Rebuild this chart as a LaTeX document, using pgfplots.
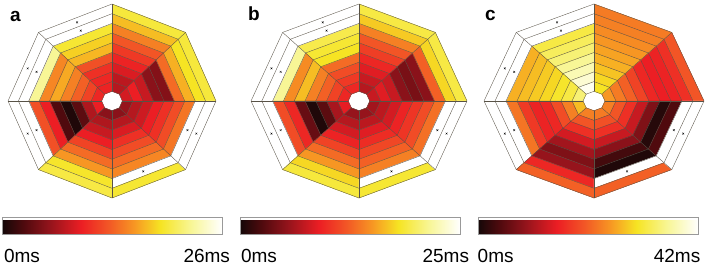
\documentclass[border=0pt]{standalone}
\usepackage{pgfplots}
\usepackage{pgfplotstable}
\pgfplotsset{compat=1.18}
\usepackage{fontspec}
\setmainfont{Liberation Sans}
\definecolor{gridc}{RGB}{88,82,70}
\pgfplotsset{
 colormap={hotc}{rgb255(0cm)=(20,8,8) rgb255(10cm)=(80,10,14) rgb255(22cm)=(150,20,28) rgb255(36cm)=(236,30,36) rgb255(48cm)=(242,85,38) rgb255(60cm)=(247,150,35) rgb255(72cm)=(246,228,35) rgb255(86cm)=(248,246,150) rgb255(100cm)=(255,255,255)},
 bull/.style={anchor=center, hide axis, xmin=-1, xmax=1, ymin=-1, ymax=1, colormap name=hotc, point meta min=0, point meta max=1, clip=false, colorbar horizontal},
 cells/.style={surf, shader=flat corner, mesh/rows=9, mesh/cols=10, point meta=explicit},
 gridl/.style={sharp plot, mesh/check=false, draw=gridc, line width=0.35pt, no marks, forget plot},
 xmk/.style={only marks, mark=x, mark size=1.3pt, black, line width=0.35pt},
 cbar/.style={at={(parent axis.south west)}, anchor=north west, height=17pt, scale only axis, xtick={0,1}, major tick length=0pt, xticklabel style={font=\fontsize{19}{22}\selectfont, anchor=base, inner sep=0pt, yshift=-28pt}, axis line style={draw=black!40, line width=0.4pt}}
}
\pgfplotstableread[row sep=\\]{
t r v\\
0 0.1 0.32\\ 0 0.2 0.36\\ 0 0.3 0.30\\ 0 0.4 0.20\\ 0 0.5 0.19\\ 0 0.6 0.52\\ 0 0.7 0.64\\ 0 0.8 0.72\\ 0 0.9 0.75\\ 0 1.0 0\\
45 0.1 0.27\\ 45 0.2 0.28\\ 45 0.3 0.33\\ 45 0.4 0.37\\ 45 0.5 0.42\\ 45 0.6 0.48\\ 45 0.7 0.56\\ 45 0.8 0.66\\ 45 0.9 0.75\\ 45 1.0 0\\
90 0.1 0.37\\ 90 0.2 0.38\\ 90 0.3 0.40\\ 90 0.4 0.47\\ 90 0.5 0.65\\ 90 0.6 0.69\\ 90 0.7 0.74\\ 90 0.8 1\\ 90 0.9 1\\ 90 1.0 0\\
135 0.1 0.38\\ 135 0.2 0.44\\ 135 0.3 0.50\\ 135 0.4 0.56\\ 135 0.5 0.63\\ 135 0.6 0.57\\ 135 0.7 0.86\\ 135 0.8 1\\ 135 0.9 1\\ 135 1.0 0\\
180 0.1 0.36\\ 180 0.2 0.26\\ 180 0.3 0.12\\ 180 0.4 0.02\\ 180 0.5 0.10\\ 180 0.6 0.36\\ 180 0.7 0.47\\ 180 0.8 1\\ 180 0.9 1\\ 180 1.0 0\\
225 0.1 0.20\\ 225 0.2 0.26\\ 225 0.3 0.30\\ 225 0.4 0.36\\ 225 0.5 0.44\\ 225 0.6 0.52\\ 225 0.7 0.60\\ 225 0.8 0.73\\ 225 0.9 0.76\\ 225 1.0 0\\
270 0.1 0.20\\ 270 0.2 0.27\\ 270 0.3 0.33\\ 270 0.4 0.40\\ 270 0.5 0.46\\ 270 0.6 0.52\\ 270 0.7 0.57\\ 270 0.8 1\\ 270 0.9 0.74\\ 270 1.0 0\\
315 0.1 0.22\\ 315 0.2 0.27\\ 315 0.3 0.31\\ 315 0.4 0.36\\ 315 0.5 0.40\\ 315 0.6 0.46\\ 315 0.7 0.54\\ 315 0.8 1\\ 315 0.9 1\\ 315 1.0 0\\
360 0.1 0\\ 360 0.2 0\\ 360 0.3 0\\ 360 0.4 0\\ 360 0.5 0\\ 360 0.6 0\\ 360 0.7 0\\ 360 0.8 0\\ 360 0.9 0\\ 360 1.0 0\\
}\dataA
\pgfplotstableread[row sep=\\]{
t r v\\
0 0.1 0.30\\ 0 0.2 0.34\\ 0 0.3 0.30\\ 0 0.4 0.20\\ 0 0.5 0.17\\ 0 0.6 0.20\\ 0 0.7 0.50\\ 0 0.8 0.70\\ 0 0.9 0.76\\ 0 1.0 0\\
45 0.1 0.27\\ 45 0.2 0.30\\ 45 0.3 0.34\\ 45 0.4 0.38\\ 45 0.5 0.43\\ 45 0.6 0.48\\ 45 0.7 0.56\\ 45 0.8 0.68\\ 45 0.9 0.76\\ 45 1.0 0\\
90 0.1 0.38\\ 90 0.2 0.42\\ 90 0.3 0.46\\ 90 0.4 0.52\\ 90 0.5 0.72\\ 90 0.6 0.74\\ 90 0.7 0.77\\ 90 0.8 1\\ 90 0.9 1\\ 90 1.0 0\\
135 0.1 0.38\\ 135 0.2 0.44\\ 135 0.3 0.50\\ 135 0.4 0.56\\ 135 0.5 0.66\\ 135 0.6 0.58\\ 135 0.7 0.86\\ 135 0.8 1\\ 135 0.9 1\\ 135 1.0 0\\
180 0.1 0.35\\ 180 0.2 0.25\\ 180 0.3 0.12\\ 180 0.4 0.02\\ 180 0.5 0.14\\ 180 0.6 0.38\\ 180 0.7 0.46\\ 180 0.8 1\\ 180 0.9 1\\ 180 1.0 0\\
225 0.1 0.22\\ 225 0.2 0.27\\ 225 0.3 0.32\\ 225 0.4 0.37\\ 225 0.5 0.44\\ 225 0.6 0.52\\ 225 0.7 0.60\\ 225 0.8 0.70\\ 225 0.9 0.75\\ 225 1.0 0\\
270 0.1 0.22\\ 270 0.2 0.28\\ 270 0.3 0.34\\ 270 0.4 0.39\\ 270 0.5 0.45\\ 270 0.6 0.50\\ 270 0.7 0.56\\ 270 0.8 1\\ 270 0.9 0.74\\ 270 1.0 0\\
315 0.1 0.24\\ 315 0.2 0.28\\ 315 0.3 0.32\\ 315 0.4 0.37\\ 315 0.5 0.41\\ 315 0.6 0.46\\ 315 0.7 0.53\\ 315 0.8 1\\ 315 0.9 1\\ 315 1.0 0\\
360 0.1 0\\ 360 0.2 0\\ 360 0.3 0\\ 360 0.4 0\\ 360 0.5 0\\ 360 0.6 0\\ 360 0.7 0\\ 360 0.8 0\\ 360 0.9 0\\ 360 1.0 0\\
}\dataB
\pgfplotstableread[row sep=\\]{
t r v\\
0 0.1 0.60\\ 0 0.2 0.55\\ 0 0.3 0.50\\ 0 0.4 0.44\\ 0 0.5 0.38\\ 0 0.6 0.36\\ 0 0.7 0.37\\ 0 0.8 0.40\\ 0 0.9 0.48\\ 0 1.0 0\\
45 0.1 0.72\\ 45 0.2 0.70\\ 45 0.3 0.67\\ 45 0.4 0.64\\ 45 0.5 0.62\\ 45 0.6 0.60\\ 45 0.7 0.58\\ 45 0.8 0.56\\ 45 0.9 0.55\\ 45 1.0 0\\
90 0.1 0.98\\ 90 0.2 0.94\\ 90 0.3 0.90\\ 90 0.4 0.86\\ 90 0.5 0.82\\ 90 0.6 0.79\\ 90 0.7 0.76\\ 90 0.8 1\\ 90 0.9 1\\ 90 1.0 0\\
135 0.1 0.82\\ 135 0.2 0.76\\ 135 0.3 0.73\\ 135 0.4 0.70\\ 135 0.5 0.68\\ 135 0.6 0.66\\ 135 0.7 0.64\\ 135 0.8 1\\ 135 0.9 1\\ 135 1.0 0\\
180 0.1 0.66\\ 180 0.2 0.56\\ 180 0.3 0.46\\ 180 0.4 0.38\\ 180 0.5 0.37\\ 180 0.6 0.42\\ 180 0.7 0.54\\ 180 0.8 1\\ 180 0.9 1\\ 180 1.0 0\\
225 0.1 0.56\\ 225 0.2 0.48\\ 225 0.3 0.40\\ 225 0.4 0.32\\ 225 0.5 0.24\\ 225 0.6 0.18\\ 225 0.7 0.22\\ 225 0.8 0.38\\ 225 0.9 0.50\\ 225 1.0 0\\
270 0.1 0.55\\ 270 0.2 0.47\\ 270 0.3 0.40\\ 270 0.4 0.30\\ 270 0.5 0.20\\ 270 0.6 0.08\\ 270 0.7 0.02\\ 270 0.8 1\\ 270 0.9 0.50\\ 270 1.0 0\\
315 0.1 0.56\\ 315 0.2 0.48\\ 315 0.3 0.40\\ 315 0.4 0.30\\ 315 0.5 0.18\\ 315 0.6 0.03\\ 315 0.7 0.10\\ 315 0.8 1\\ 315 0.9 1\\ 315 1.0 0\\
360 0.1 0\\ 360 0.2 0\\ 360 0.3 0\\ 360 0.4 0\\ 360 0.5 0\\ 360 0.6 0\\ 360 0.7 0\\ 360 0.8 0\\ 360 0.9 0\\ 360 1.0 0\\
}\dataC
\pgfplotstableread[row sep=\\]{
t r\\ 112.5 0.85\\ 112.5 0.95\\ 157.5 0.85\\ 157.5 0.95\\ 202.5 0.85\\ 202.5 0.95\\ 292.5 0.85\\ 337.5 0.85\\ 337.5 0.95\\
}\marks
\pgfplotstableread[row sep=\\]{
t z\\ 0 0\\ 45 0\\ 90 0\\ 135 0\\ 180 0\\ 225 0\\ 270 0\\ 315 0\\ 360 0\\
}\angs
\pgfplotstableread[row sep=\\]{
r z\\ 0.1 0\\ 1.0 0\\
}\rads
\newcommand\bullgrid{%
 \pgfplotsinvokeforeach{0.1,0.2,0.3,0.4,0.5,0.6,0.7,0.8,0.9,1.0}{%
  \addplot[gridl] table[x expr=##1*cos(\thisrow{t}), y expr=##1*sin(\thisrow{t})]{\angs};}%
 \pgfplotsinvokeforeach{0,45,90,135,180,225,270,315}{%
  \addplot[gridl] table[x expr=\thisrow{r}*cos(##1), y expr=\thisrow{r}*sin(##1)]{\rads};}%
}
\begin{document}
\begin{tikzpicture}
\path[use as bounding box] (0,0) rectangle (709pt,-265pt);
% ---------- panel a
\begin{axis}[bull, at={(112pt,-101pt)}, x=104pt, y=97pt,
  colorbar style={cbar, xshift=-6pt, yshift=-10.7pt, width=220pt,
  xticklabels={{\makebox[0pt][l]{\hspace{2pt}0ms}},{\makebox[0pt][r]{26ms\hspace{-8pt}}}}}]
\addplot[cells] table[x expr=\thisrow{r}*cos(\thisrow{t}), y expr=\thisrow{r}*sin(\thisrow{t}), meta=v]{\dataA};
\bullgrid
\addplot[xmk] table[x expr=\thisrow{r}*0.9239*cos(\thisrow{t}), y expr=\thisrow{r}*0.9239*sin(\thisrow{t})]{\marks};
\end{axis}
% ---------- panel b
\begin{axis}[bull, at={(359pt,-101pt)}, x=108pt, y=97pt,
  colorbar style={cbar, xshift=-11pt, yshift=-10.7pt, width=220pt,
  xticklabels={{\makebox[0pt][l]{\hspace{1pt}0ms}},{\makebox[0pt][r]{25ms\hspace{-9pt}}}}}]
\addplot[cells] table[x expr=\thisrow{r}*cos(\thisrow{t}), y expr=\thisrow{r}*sin(\thisrow{t}), meta=v]{\dataB};
\bullgrid
\addplot[xmk] table[x expr=\thisrow{r}*0.9239*cos(\thisrow{t}), y expr=\thisrow{r}*0.9239*sin(\thisrow{t})]{\marks};
\end{axis}
% ---------- panel c
\begin{axis}[bull, at={(594pt,-101pt)}, x=110pt, y=97pt,
  colorbar style={cbar, xshift=-6.3pt, yshift=-10.7pt, width=220.6pt,
  xticklabels={{\makebox[0pt][l]{0ms}},{\makebox[0pt][r]{42ms\hspace{-2pt}}}}}]
\addplot[cells] table[x expr=\thisrow{r}*cos(\thisrow{t}), y expr=\thisrow{r}*sin(\thisrow{t}), meta=v]{\dataC};
\bullgrid
\addplot[xmk] table[x expr=\thisrow{r}*0.9239*cos(\thisrow{t}), y expr=\thisrow{r}*0.9239*sin(\thisrow{t})]{\marks};
\end{axis}
\node[anchor=base west, inner sep=0pt, font=\fontsize{19}{22}\selectfont\bfseries] at (10pt,-21pt) {a};
\node[anchor=base west, inner sep=0pt, font=\fontsize{19}{22}\selectfont\bfseries] at (248pt,-20pt) {b};
\node[anchor=base west, inner sep=0pt, font=\fontsize{19}{22}\selectfont\bfseries] at (485pt,-20pt) {c};
\end{tikzpicture}
\end{document}
